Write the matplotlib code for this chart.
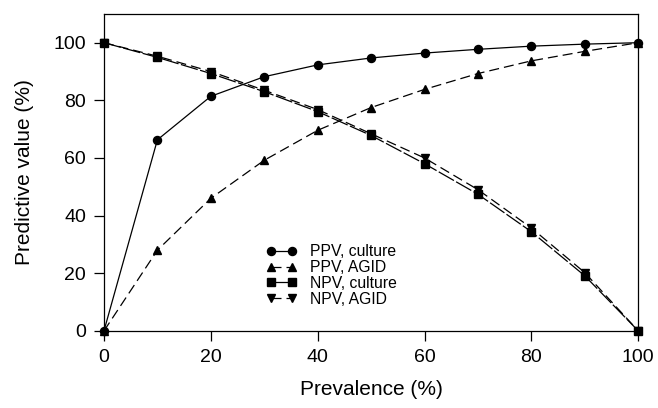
import matplotlib
matplotlib.use("Agg")
import matplotlib.pyplot as plt

plt.rcParams["font.family"] = ["Liberation Sans", "DejaVu Sans"]

prevalence = [0, 10, 20, 30, 40, 50, 60, 70, 80, 90, 100]
ppv_culture = [0, 66.3, 81.4, 88.2, 92.3, 94.7, 96.4, 97.7, 98.8, 99.5, 100]
ppv_agid = [0, 28.0, 46.0, 59.2, 69.6, 77.5, 83.8, 89.3, 93.7, 97.0, 100]
npv_culture = [100, 94.9, 89.3, 83.0, 76.1, 67.8, 58.0, 47.4, 34.4, 19.1, 0]
npv_agid = [100, 95.3, 90.0, 83.5, 76.8, 68.4, 60.0, 49.0, 35.7, 20.2, 0]

fig = plt.figure(figsize=(6.58, 4.08), dpi=100)
ax = fig.add_axes([0.158, 0.189, 0.812, 0.777])

ms = 5.8
ax.plot(prevalence, ppv_culture, color="black", lw=0.9, marker="o", ms=ms,
        label="PPV, culture", clip_on=False, zorder=3)
ax.plot(prevalence, ppv_agid, color="black", lw=0.9, marker="^", ms=ms,
        dashes=(8, 4), label="PPV, AGID", clip_on=False, zorder=3)
ax.plot(prevalence, npv_culture, color="black", lw=0.9, marker="s", ms=ms - 0.6,
        dashes=(14, 2), label="NPV, culture", clip_on=False, zorder=3)
ax.plot(prevalence, npv_agid, color="black", lw=0.9, marker="v", ms=ms,
        dashes=(8, 4), label="NPV, AGID", clip_on=False, zorder=3)

ax.set_xlim(0, 100)
ax.set_ylim(0, 110)
ax.set_xticks(range(0, 101, 20))
ax.set_yticks(range(0, 101, 20))
ax.tick_params(direction="out", length=7, width=0.9, labelsize=14, pad=6)
for s in ax.spines.values():
    s.set_linewidth(0.9)

ax.set_xlabel("Prevalence (%)", fontsize=15, labelpad=10)
ax.set_ylabel("Predictive value (%)", fontsize=15, labelpad=14)

ax.legend(loc="center left", bbox_to_anchor=(0.304, 0.175), frameon=False,
          fontsize=11.3, handlelength=1.9, handletextpad=0.85, numpoints=2,
          labelspacing=0.05, borderpad=0, borderaxespad=0)

fig.savefig("out.png", dpi=100)
